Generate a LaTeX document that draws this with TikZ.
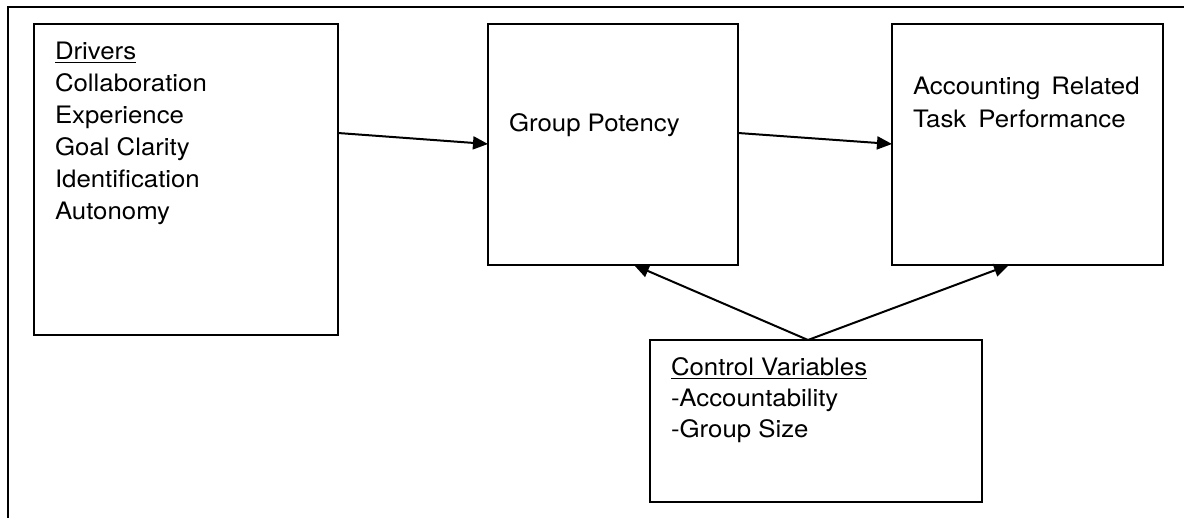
\documentclass[tikz,border=0pt]{standalone}
\usepackage{fontspec}
\setmainfont{TeX Gyre Heros}[FakeStretch=1.075]
\usetikzlibrary{arrows.meta}
\tikzset{
  frameline/.style={line width=1.3pt},
  box/.style={draw, line width=1.3pt, inner sep=0pt, outer sep=0pt, anchor=north west},
  txt/.style={inner sep=0pt, outer sep=0pt, anchor=base west, font=\fontsize{24pt}{32pt}\selectfont},
  conn/.style={line width=2pt, -{Triangle[length=15pt,width=13pt]}},
  ulline/.style={line width=1.3pt}
}
\begin{document}
\begin{tikzpicture}[x=1pt, y=-1pt]
\useasboundingbox (0,0) rectangle (1184,518);
% outer frame (open at bottom and right)
\draw[frameline] (8,530) -- (8,7) -- (1195,7);

% boxes
\node[box, minimum width=304pt, minimum height=311pt] (drv) at (34,24) {};
\node[box, minimum width=250pt, minimum height=241pt] (gp) at (488,24) {};
\node[box, minimum width=271pt, minimum height=241pt] (art) at (892,24) {};
\node[box, minimum width=332pt, minimum height=162pt] (cv) at (650,340) {};

% drivers text
\node[txt] (d0) at (55,60) {Drivers};
\draw[ulline] ([yshift=-2.5pt]d0.base west) -- ([yshift=-2.5pt]d0.base east);
\node[txt] (d1) at (55,92) {Collaboration};
\node[txt] (d2) at (55,124) {Experience};
\node[txt] (d3) at (55,156) {Goal Clarity};
\node[txt] (d4) at (55,188) {Identification};
\node[txt] (d5) at (55,220) {Autonomy};

% group potency text
\node[txt] (g0) at (509,132) {Group Potency};

% task performance text
\node[txt] (a0) at (913,95) {Accounting\hspace{11pt}Related};
\node[txt] (a1) at (913,128) {Task\hspace{12pt}Performance};

% control variables text
\node[txt] (c0) at (671,376) {Control Variables};
\draw[ulline] ([yshift=-2.5pt]c0.base west) -- ([yshift=-2.5pt]c0.base east);
\node[txt] (c1) at (671,407) {-Accountability};
\node[txt] (c2) at (671,438) {-Group Size};

% connectors
\draw[conn] ([yshift=-109pt]drv.north east) -- ([yshift=-120pt]gp.north west);
\draw[conn] ([yshift=-109pt]gp.north east) -- ([yshift=-120pt]art.north west);
\draw[conn] ([xshift=-8pt]cv.north) -- ([xshift=146pt]gp.south west);
\draw[conn] ([xshift=-8pt]cv.north) -- ([xshift=117pt]art.south west);
\end{tikzpicture}
\end{document}
